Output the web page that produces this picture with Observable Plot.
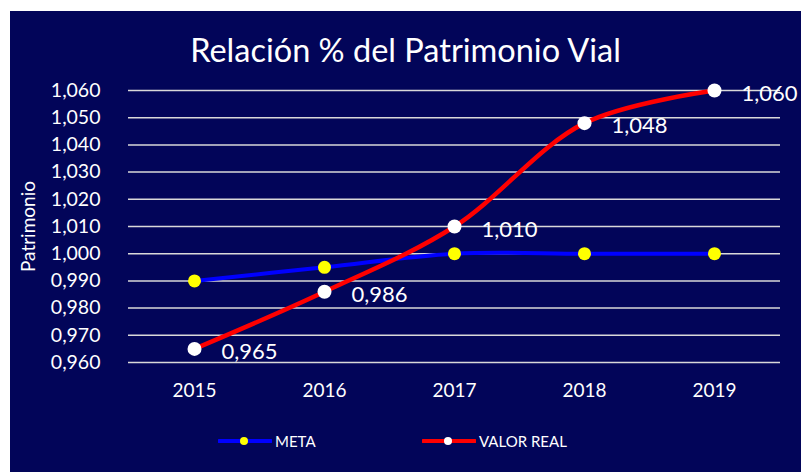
<!DOCTYPE html>
<html>
<head>
<meta charset="utf-8">
<script src="https://cdn.jsdelivr.net/npm/d3@7"></script>
<script src="https://cdn.jsdelivr.net/npm/@observablehq/plot@0.6"></script>
<style>
  html, body { margin: 0; padding: 0; background: #ffffff; }
  body { width: 801px; height: 472px; position: relative; overflow: hidden; font-family: Lato, "Open Sans", sans-serif; }
  #panel { position: absolute; left: 10px; top: 11px; width: 791px; height: 461px; background: #020559; }
  #title { position: absolute; left: 0; top: 21px; width: 791px; text-align: center; color: #ffffff; font-size: 32.5px; line-height: 36px; }
  #chart { position: absolute; left: 0; top: 60px; }
  #legend { position: absolute; top: 420px; left: 0; width: 791px; height: 20px; color: #ffffff; font-size: 15px; }
  .item { position: absolute; display: flex; align-items: center; height: 20px; }
  .item svg { margin-right: 3px; }
</style>
</head>
<body>
<div id="panel">
  <div id="title">Relación % del Patrimonio Vial</div>
  <div id="chart"></div>
  <div id="legend"></div>
</div>
<script>
const years = ["2015", "2016", "2017", "2018", "2019"];
const meta = [0.990, 0.995, 1.000, 1.000, 1.000];
const valorReal = [0.965, 0.986, 1.010, 1.048, 1.060];
const yTicks = [0.96, 0.97, 0.98, 0.99, 1.00, 1.01, 1.02, 1.03, 1.04, 1.05, 1.06];
const seriesNames = ["META", "VALOR REAL"];
const yLabel = "Patrimonio";

const fmt = d => d.toFixed(3).replace(".", ",");
const metaData = years.map((y, i) => ({year: y, value: meta[i]}));
const realData = years.map((y, i) => ({year: y, value: valorReal[i]}));

const chart = Plot.plot({
  width: 791,
  height: 350,
  marginLeft: 118,
  marginRight: 21,
  marginTop: 19,
  marginBottom: 59,
  style: {background: "transparent", color: "#ffffff", fontFamily: "Lato, 'Open Sans', sans-serif", overflow: "visible"},
  x: {type: "point", domain: years, padding: 0.5, label: null},
  y: {domain: [0.96, 1.06], ticks: yTicks, label: null},
  marks: [
    Plot.gridY(yTicks, {stroke: "#d9d9d9", strokeOpacity: 1, strokeWidth: 1.5}),
    Plot.axisY({ticks: yTicks, tickFormat: fmt, tickSize: 0, tickPadding: 28, fontSize: 19.5, label: null, stroke: "none"}),
    Plot.axisX({tickSize: 0, tickPadding: 21, fontSize: 19, label: null}),
    Plot.text([yLabel], {frameAnchor: "left", textAnchor: "middle", dx: -100, rotate: -90, fill: "#ffffff", fontSize: 19}),
    Plot.line(metaData, {x: "year", y: "value", stroke: "#0000ff", strokeWidth: 4, curve: "catmull-rom"}),
    Plot.dot(metaData, {x: "year", y: "value", r: 6.5, fill: "#ffff00", stroke: "none"}),
    Plot.line(realData, {x: "year", y: "value", stroke: "#ff0000", strokeWidth: 4.5, curve: "catmull-rom"}),
    Plot.dot(realData, {x: "year", y: "value", r: 7, fill: "#ffffff", stroke: "none"}),
    Plot.text(realData, {x: "year", y: "value", text: d => fmt(d.value), textAnchor: "start", dx: 27, dy: 3, fill: "#ffffff", fontSize: 22})
  ]
});
document.getElementById("chart").appendChild(chart);

// Legend
const legend = document.getElementById("legend");
const legendItems = [
  {name: seriesNames[0], line: "#0000ff", dot: "#ffff00", left: 208},
  {name: seriesNames[1], line: "#ff0000", dot: "#ffffff", left: 412}
];
for (const it of legendItems) {
  const div = document.createElement("div");
  div.className = "item";
  div.style.left = it.left + "px";
  div.innerHTML = `<svg width="54" height="20"><line x1="1" x2="53" y1="10" y2="10" stroke="${it.line}" stroke-width="4" stroke-linecap="round"/><circle cx="26" cy="10" r="4" fill="${it.dot}"/></svg><span>${it.name}</span>`;
  legend.appendChild(div);
}
</script>
</body>
</html>
